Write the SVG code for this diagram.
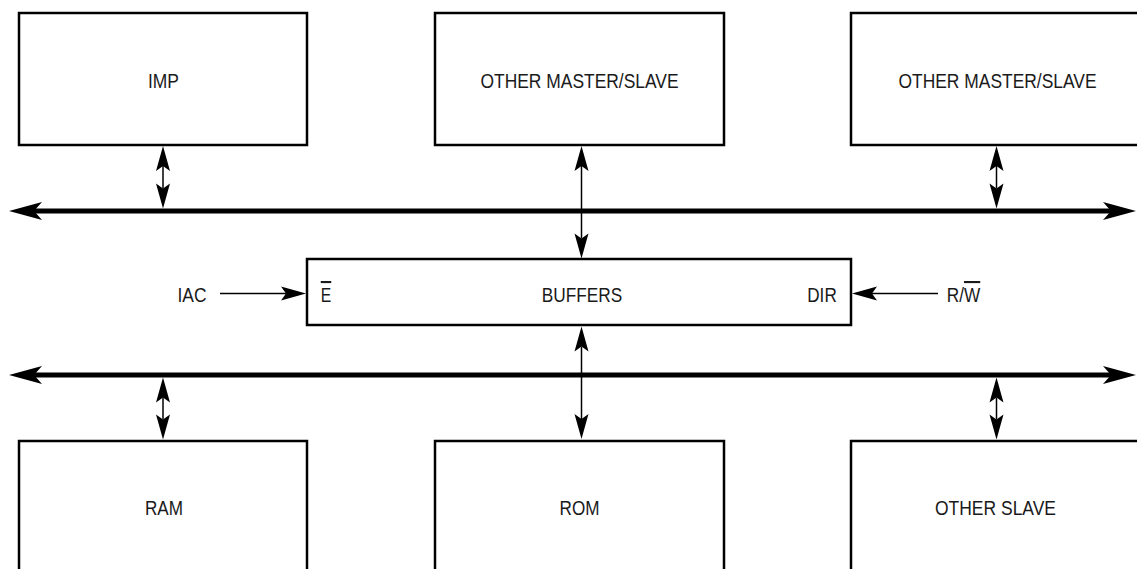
<svg xmlns="http://www.w3.org/2000/svg" width="1137" height="569" viewBox="0 0 1137 569">
  <style>
    .box { fill: #fff; stroke: #000; stroke-width: 2.5; }
    .lbl { font-family: "Liberation Sans", Arial, sans-serif; font-size: 21px; fill: #1a1a1a; text-anchor: middle; }
    .bus { stroke: #000; stroke-width: 5; fill: none; }
    .wire { stroke: #000; stroke-width: 1.5; fill: none; }
    .ov { text-decoration: overline; }
  </style>
  <defs>
    <marker id="busHead" markerUnits="userSpaceOnUse" orient="auto-start-reverse" refX="0" refY="0" markerWidth="40" markerHeight="20" overflow="visible">
      <path d="M25,0 L-8,-9 L0,0 L-8,9 Z" fill="#000"/>
    </marker>
    <marker id="head" markerUnits="userSpaceOnUse" orient="auto-start-reverse" refX="0" refY="0" markerWidth="30" markerHeight="16" overflow="visible">
      <path d="M20,0 L-5,-7 L0,0 L-5,7 Z" fill="#000"/>
    </marker>
  </defs>
  <rect width="1137" height="569" fill="#fff"/>

  <g id="imp">
    <rect class="box" x="19" y="13" width="288" height="132"/>
    <text class="lbl" x="163.5" y="88" textLength="31" lengthAdjust="spacingAndGlyphs">IMP</text>
  </g>
  <g id="other-master-slave-1">
    <rect class="box" x="435" y="13" width="289" height="132"/>
    <text class="lbl" x="579.5" y="88" textLength="198" lengthAdjust="spacingAndGlyphs">OTHER MASTER/SLAVE</text>
  </g>
  <g id="other-master-slave-2">
    <rect class="box" x="851" y="13" width="292" height="132"/>
    <text class="lbl" x="997.5" y="88" textLength="198" lengthAdjust="spacingAndGlyphs">OTHER MASTER/SLAVE</text>
  </g>
  <g id="buffers">
    <rect class="box" x="307" y="259" width="544" height="66"/>
    <text class="lbl" x="582" y="302" textLength="80.5" lengthAdjust="spacingAndGlyphs">BUFFERS</text>
    <text class="lbl" x="326" y="302" textLength="10.5" lengthAdjust="spacingAndGlyphs"><tspan class="ov">E</tspan></text>
    <text class="lbl" x="822" y="302" textLength="29.5" lengthAdjust="spacingAndGlyphs">DIR</text>
  </g>
  <g id="iac">
    <text class="lbl" x="192" y="302" textLength="29" lengthAdjust="spacingAndGlyphs">IAC</text>
  </g>
  <g id="rw">
    <text class="lbl" x="963.5" y="302" textLength="33.5" lengthAdjust="spacingAndGlyphs">R/<tspan class="ov">W</tspan></text>
  </g>
  <g id="ram">
    <rect class="box" x="19" y="441" width="288" height="140"/>
    <text class="lbl" x="164" y="515" textLength="38" lengthAdjust="spacingAndGlyphs">RAM</text>
  </g>
  <g id="rom">
    <rect class="box" x="435" y="441" width="289" height="140"/>
    <text class="lbl" x="579.5" y="515" textLength="40" lengthAdjust="spacingAndGlyphs">ROM</text>
  </g>
  <g id="other-slave">
    <rect class="box" x="851" y="441" width="292" height="140"/>
    <text class="lbl" x="995.5" y="515" textLength="121" lengthAdjust="spacingAndGlyphs">OTHER SLAVE</text>
  </g>

  <g id="connectors">
    <line class="bus" x1="34" y1="211" x2="1111" y2="211" marker-start="url(#busHead)" marker-end="url(#busHead)"/>
    <line class="bus" x1="34" y1="375" x2="1111" y2="375" marker-start="url(#busHead)" marker-end="url(#busHead)"/>

    <line class="wire" x1="163" y1="166" x2="163" y2="188.5" marker-start="url(#head)" marker-end="url(#head)"/>
    <line class="wire" x1="996.5" y1="166" x2="996.5" y2="188.5" marker-start="url(#head)" marker-end="url(#head)"/>
    <line class="wire" x1="581.5" y1="166" x2="581.5" y2="238.5" marker-start="url(#head)" marker-end="url(#head)"/>

    <line class="wire" x1="581.5" y1="346.5" x2="581.5" y2="419" marker-start="url(#head)" marker-end="url(#head)"/>
    <line class="wire" x1="163" y1="397.5" x2="163" y2="419.5" marker-start="url(#head)" marker-end="url(#head)"/>
    <line class="wire" x1="996.5" y1="397.5" x2="996.5" y2="419.5" marker-start="url(#head)" marker-end="url(#head)"/>

    <line class="wire" x1="220" y1="293.5" x2="286" y2="293.5" marker-end="url(#head)"/>
    <line class="wire" x1="938" y1="293.5" x2="872" y2="293.5" marker-end="url(#head)"/>
  </g>
</svg>
